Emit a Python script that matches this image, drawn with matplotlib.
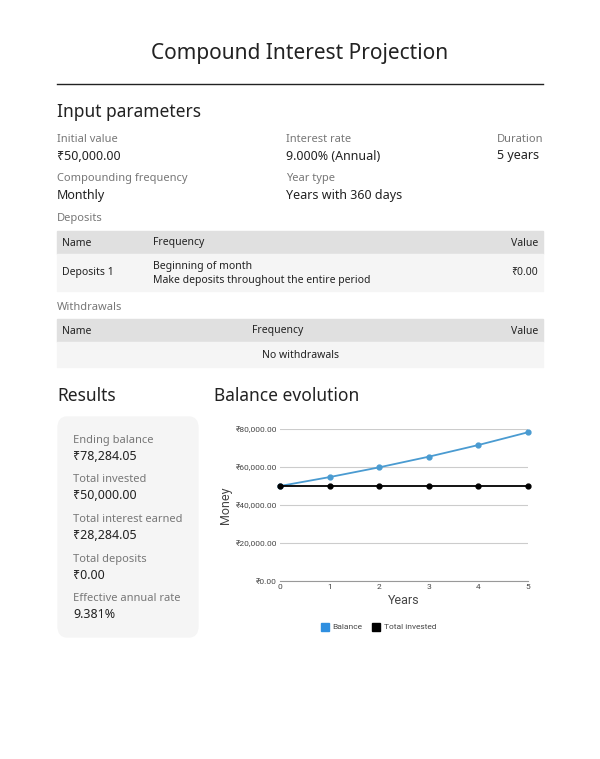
import matplotlib.pyplot as plt
from matplotlib.patches import Rectangle, FancyBboxPatch
from matplotlib.lines import Line2D

plt.rcParams['font.family'] = ['Noto Sans', 'DejaVu Sans']

years = [0, 1, 2, 3, 4, 5]
balance = [50000, 54690, 59820, 65430, 71570, 78284.05]
invested = [50000, 50000, 50000, 50000, 50000, 50000]
y_ticks = [0, 20000, 40000, 60000, 80000]

W, H = 600, 759
fig = plt.figure(figsize=(W / 100, H / 100), dpi=100)

def t(x, y, s, size=9, color='#222222', **kw):
    fig.text(x / W, 1 - y / H, s, fontsize=size, color=color, va='center', **kw)

def box(x, y, w, h, color):
    fig.patches.append(Rectangle((x / W, 1 - (y + h) / H), w / W, h / H,
                                 transform=fig.transFigure, color=color, zorder=0))

gray = '#777777'
t(300, 54, 'Compound Interest Projection', 15, ha='center')
fig.add_artist(Line2D([57 / W, 543 / W], [1 - 84 / H] * 2, color='#222222', lw=1))
t(57, 112, 'Input parameters', 12.5)

t(57, 140, 'Initial value', 8, gray)
t(57, 156, '₹50,000.00', 9)
t(286, 140, 'Interest rate', 8, gray)
t(286, 156, '9.000% (Annual)', 9)
t(497, 140, 'Duration', 8, gray)
t(497, 156, '5 years', 9)
t(57, 179, 'Compounding frequency', 8, gray)
t(57, 196, 'Monthly', 9)
t(286, 179, 'Year type', 8, gray)
t(286, 196, 'Years with 360 days', 9)

t(57, 219, 'Deposits', 8, gray)
box(57, 231, 486, 23, '#e0e0e0')
box(57, 254, 486, 37, '#f5f5f5')
t(62, 243, 'Name', 7.5, weight='bold')
t(153, 243, 'Frequency', 7.5, weight='bold')
t(538, 243, 'Value', 7.5, weight='bold', ha='right')
t(62, 273, 'Deposits 1', 7.5)
t(153, 266, 'Beginning of month', 7.5)
t(153, 281, 'Make deposits throughout the entire period', 7.5)
t(538, 273, '₹0.00', 7.5, ha='right')

t(57, 308, 'Withdrawals', 8, gray)
box(57, 319, 486, 23, '#e0e0e0')
box(57, 342, 486, 25, '#f5f5f5')
t(62, 331, 'Name', 7.5, weight='bold')
t(278, 331, 'Frequency', 7.5, weight='bold', ha='center')
t(538, 331, 'Value', 7.5, weight='bold', ha='right')
t(300, 355, 'No withdrawals', 7.5, ha='center')

t(57, 396, 'Results', 12.5)
fig.patches.append(FancyBboxPatch((58 / W, 1 - 637 / H), 140 / W, 220 / H,
                                  boxstyle='round,pad=0,rounding_size=0.015',
                                  transform=fig.transFigure, color='#f5f5f5', zorder=0))
results = [('Ending balance', '₹78,284.05'), ('Total invested', '₹50,000.00'),
           ('Total interest earned', '₹28,284.05'), ('Total deposits', '₹0.00'),
           ('Effective annual rate', '9.381%')]
for i, (k, v) in enumerate(results):
    y = 440 + i * 39.7
    t(73, y, k, 8, gray)
    t(73, y + 16, v, 9)

t(214, 396, 'Balance evolution', 12.5)

ax = fig.add_axes([280 / W, 1 - 581 / H, 248 / W, 152 / H])
ax.plot(years, balance, color='#4a9bd1', lw=1.3, marker='o', ms=3.5, clip_on=False, zorder=3)
ax.plot(years, invested, color='black', lw=1.3, marker='o', ms=3.5, clip_on=False, zorder=3)
ax.set_xlim(0, 5)
ax.set_ylim(0, 80000)
ax.set_xticks(years)
ax.set_yticks(y_ticks)
ax.set_yticklabels(['₹{:,.2f}'.format(v) for v in y_ticks])
ax.tick_params(labelsize=6, colors='#444444', length=0, pad=2)
ax.grid(axis='y', color='#cccccc', lw=0.8)
for s in ['top', 'right', 'left']:
    ax.spines[s].set_visible(False)
ax.spines['bottom'].set_color('#999999')
ax.set_xlabel('Years', fontsize=9, color='#444444', labelpad=3, family='Roboto')
ax.set_ylabel('Money', fontsize=9, color='#444444', labelpad=3, family='Roboto')
for tl in ax.get_xticklabels() + ax.get_yticklabels():
    tl.set_family('Roboto')

fig.patches.append(Rectangle((321 / W, 1 - 631 / H), 8 / W, 8 / H, transform=fig.transFigure, color='#2f8fe0'))
fig.text(332 / W, 1 - 627 / H, 'Balance', fontsize=6, color='#444444', va='center', family='Roboto')
fig.patches.append(Rectangle((372 / W, 1 - 631 / H), 8 / W, 8 / H, transform=fig.transFigure, color='black'))
fig.text(384 / W, 1 - 627 / H, 'Total invested', fontsize=6, color='#444444', va='center', family='Roboto')

fig.savefig('out.png', dpi=100)
